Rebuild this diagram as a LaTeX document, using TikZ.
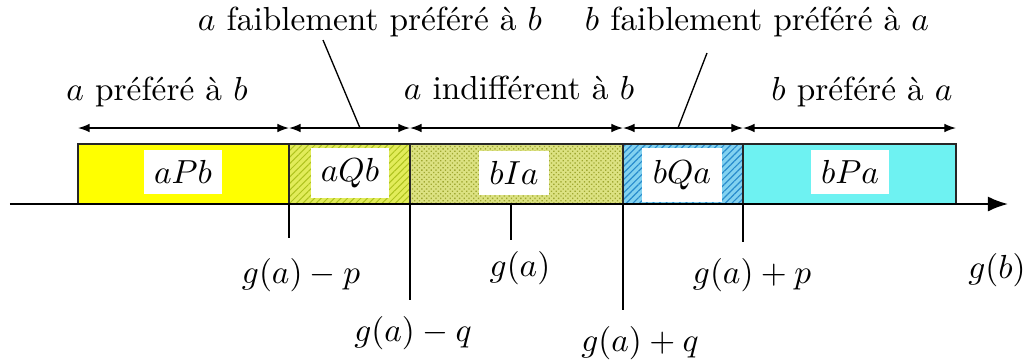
\documentclass[tikz,border=0pt]{standalone}
\usepackage{fontspec}
\usepackage{tikz}
\usetikzlibrary{arrows.meta,patterns,patterns.meta,positioning,calc}

\definecolor{jaune}{RGB}{255,255,0}
\definecolor{qfond}{RGB}{226,236,90}
\definecolor{qtrait}{RGB}{175,195,30}
\definecolor{ifond}{RGB}{220,226,130}
\definecolor{ipoint}{RGB}{160,168,50}
\definecolor{bqfond}{RGB}{130,210,240}
\definecolor{bqtrait}{RGB}{40,140,205}
\definecolor{cyanclair}{RGB}{110,242,242}

\begin{document}
\begin{tikzpicture}[x=0.3pt,y=-0.3pt,
  seg/.style={draw=black!85, line width=0.45pt},
  lab/.style={fill=white, inner sep=3pt, minimum height=12pt},
  dim/.style={{Latex[length=3.5pt,width=2.6pt]}-{Latex[length=3.5pt,width=2.6pt]}, line width=0.4pt},
  tick/.style={line width=0.4pt},
  axe/.style={-{Latex[length=6pt,width=4.5pt]}, line width=0.6pt}
]
\useasboundingbox (0,0) rectangle (1024,361);

% les cinq zones
\draw[seg, fill=jaune] (78,144) rectangle (289,204);
\draw[seg, preaction={fill=qfond}, pattern={Lines[angle=45,distance=1.4pt,line width=0.3pt]}, pattern color=qtrait] (289,144) rectangle (410,204);
\draw[seg, preaction={fill=ifond}, pattern={Dots[angle=45,distance=1.0pt,radius=0.28pt]}, pattern color=ipoint] (410,144) rectangle (623,204);
\draw[seg, preaction={fill=bqfond}, pattern={Lines[angle=45,distance=1.4pt,line width=0.35pt]}, pattern color=bqtrait] (623,144) rectangle (743,204);
\draw[seg, fill=cyanclair] (743,144) rectangle (956,204);

\node[lab] (aPb) at (183,172) {$aPb$};
\node[lab] (aQb) at (350,173) {$aQb$};
\node[lab] (bIa) at (514,173) {$bIa$};
\node[lab, minimum height=16pt, minimum width=24pt] (bQa) at (682,175) {$bQa$};
\node[lab] (bPa) at (850,172) {$bPa$};

% axe
\coordinate (orig) at (10,204);
\coordinate (fin) at (1008,204);
\draw[axe] (orig) -- (fin);

% graduations
\coordinate (x1) at (289,204);
\coordinate (x2) at (410,204);
\coordinate (xg) at (511,204);
\coordinate (x3) at (623,204);
\coordinate (x4) at (743,204);
\draw[tick] (x1) -- (289,238);
\draw[tick] (x2) -- (410,300);
\draw[tick] (xg) -- (511,240);
\draw[tick] (x3) -- (623,310);
\draw[tick] (x4) -- (743,242);

\node (gmp) at (301,275) {$g(a)-p$};
\node (gmq) at (413,333) {$g(a)-q$};
\node (ga)  at (520,268) {$g(a)$};
\node (gpq) at (640,343) {$g(a)+q$};
\node (gpp) at (752,275) {$g(a)+p$};
\node (gb)  at (997,270) {$g(b)$};

% fleches de zones
\coordinate (d0) at (78,128);
\coordinate (d1) at (289,128);
\coordinate (d2) at (410,128);
\coordinate (d3) at (623,128);
\coordinate (d4) at (743,128);
\coordinate (d5) at (956,128);
\draw[dim] (d0) -- (d1);
\draw[dim] (d1) -- (d2);
\draw[dim] (d2) -- (d3);
\draw[dim] (d3) -- (d4);
\draw[dim] (d4) -- (d5);

\node (apb) at (157,92) {$a$ préféré à $b$};
\node (aib) at (519,88) {$a$ indifférent à $b$};
\node (bpa) at (862,92) {$b$ préféré à $a$};
\node (afb) at (370,22) {$a$ faiblement préféré à $b$};
\node (bfa) at (757,22) {$b$ faiblement préféré à $a$};

\coordinate (qa) at (323,40);
\coordinate (qb) at (360,128);
\coordinate (ra) at (707,53);
\coordinate (rb) at (678,128);
\draw[tick] (qa) -- (qb);
\draw[tick] (ra) -- (rb);
\end{tikzpicture}
\end{document}
